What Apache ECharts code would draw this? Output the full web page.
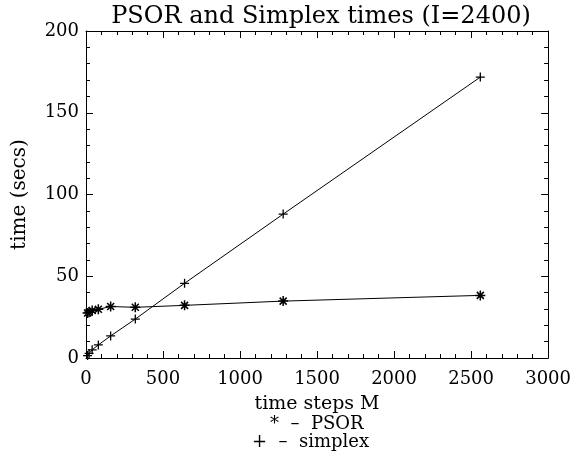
<!DOCTYPE html>
<html>
<head>
<meta charset="utf-8">
<script src="https://cdn.jsdelivr.net/npm/echarts@6/dist/echarts.min.js"></script>
<style>html,body{margin:0;padding:0;background:#fff;}#c{width:574px;height:461px;}</style>
</head>
<body>
<div id="c"></div>
<script>
const mSteps = [10, 20, 40, 80, 160, 320, 640, 1280, 2560];
const psorTimes = [27.5, 28.0, 29.0, 29.8, 31.5, 31.0, 32.2, 34.8, 38.3];
const simplexTimes = [1.5, 2.8, 5.0, 8.0, 13.5, 23.8, 45.7, 88.0, 171.8];
const xTicks = [0, 500, 1000, 1500, 2000, 2500, 3000];
const yTicks = [0, 50, 100, 150, 200];

const FONT = 'DejaVu Serif';
const plusPath = 'path://M0,5L10,5M5,0L5,10';
const starPath = 'path://M0,5L10,5M5,0L5,10M1.5,1.5L8.5,8.5M1.5,8.5L8.5,1.5';

function pairs(xs, ys) { return xs.map((x, i) => [x, ys[i]]); }

const chart = echarts.init(document.getElementById('c'), null, {renderer: 'canvas'});
const baseX = {
  type: 'value', min: xTicks[0], max: xTicks[xTicks.length - 1], interval: 500,
  axisLine: {show: true, onZero: false, lineStyle: {color: '#000', width: 1}},
  axisTick: {show: true, inside: true, length: 7, lineStyle: {color: '#000'}},
  minorTick: {show: true, splitNumber: 5, length: 4, lineStyle: {color: '#000'}},
  splitLine: {show: false},
  axisLabel: {color: '#000', fontFamily: FONT, fontSize: 18, margin: 12, formatter: v => String(v)}
};
const baseY = {
  type: 'value', min: yTicks[0], max: yTicks[yTicks.length - 1], interval: 50,
  axisLine: {show: true, onZero: false, lineStyle: {color: '#000', width: 1}},
  axisTick: {show: true, inside: true, length: 7, lineStyle: {color: '#000'}},
  minorTick: {show: true, splitNumber: 5, length: 4, lineStyle: {color: '#000'}},
  splitLine: {show: false},
  axisLabel: {color: '#000', fontFamily: FONT, fontSize: 18, margin: 7, formatter: v => String(v)}
};
chart.setOption({
  animation: false,
  backgroundColor: '#fff',
  title: {
    text: 'PSOR and Simplex times (I=2400)', left: 316, top: 0, textAlign: 'center',
    textStyle: {fontFamily: FONT, fontSize: 24, fontWeight: 'normal', color: '#000'}
  },
  grid: {left: 86, right: 24, top: 31, bottom: 103, containLabel: false},
  xAxis: [
    Object.assign({}, baseX, {position: 'bottom', name: 'time steps M', nameLocation: 'middle', nameGap: 37,
      nameTextStyle: {color: '#000', fontFamily: FONT, fontSize: 19}}),
    Object.assign({}, baseX, {position: 'top', axisLabel: {show: false}})
  ],
  yAxis: [
    Object.assign({}, baseY, {position: 'left', name: 'time (secs)', nameLocation: 'middle', nameGap: 56,
      nameTextStyle: {color: '#000', fontFamily: FONT, fontSize: 20}}),
    Object.assign({}, baseY, {position: 'right', axisLabel: {show: false}})
  ],
  graphic: [
    {type: 'text', left: 270, top: 415, style: {text: '*  \u2013  PSOR', fill: '#000', font: '18px "DejaVu Serif"'}},
    {type: 'text', left: 252, top: 433, style: {text: '+  \u2013  simplex', fill: '#000', font: '18px "DejaVu Serif"'}}
  ],
  series: [
    {
      name: 'PSOR', type: 'line', data: pairs(mSteps, psorTimes),
      symbol: starPath, symbolSize: 10, showAllSymbol: true,
      lineStyle: {color: '#000', width: 1},
      itemStyle: {color: '#000', borderColor: '#000', borderWidth: 1.5}
    },
    {
      name: 'simplex', type: 'line', data: pairs(mSteps, simplexTimes),
      symbol: plusPath, symbolSize: 9, showAllSymbol: true,
      lineStyle: {color: '#000', width: 1},
      itemStyle: {color: '#000', borderColor: '#000', borderWidth: 1.3}
    }
  ]
});
</script>
</body>
</html>
